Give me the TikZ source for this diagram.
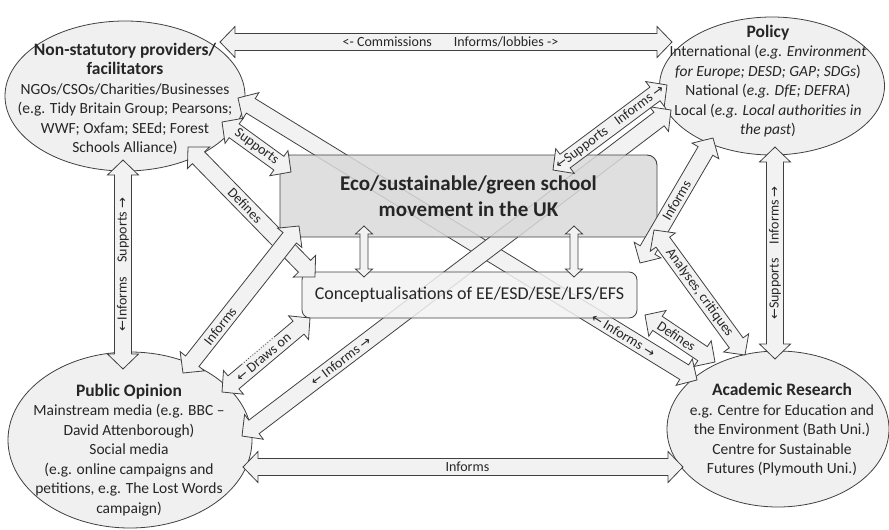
\documentclass[tikz,border=0pt]{standalone}
\usepackage{fontspec}
\setmainfont{Carlito}
\newfontfamily\arrfont{DejaVu Sans}
\usetikzlibrary{calc,shapes.geometric}
\definecolor{linec}{HTML}{404040}
\definecolor{arrfill}{HTML}{F2F2F2}
\definecolor{ellfill}{HTML}{F0F0F0}
\definecolor{ecofill}{HTML}{D9D9D9}
\definecolor{txt}{HTML}{262626}
\newcommand{\myL}{{\arrfont\fontsize{13}{13}\selectfont ←}}
\newcommand{\myR}{{\arrfont\fontsize{13}{13}\selectfont →}}
\tikzset{
  blk/.style={draw=linec, fill=arrfill, line width=0.8pt, line join=miter},
  ell/.style={ellipse, draw=linec, fill=ellfill, line width=0.8pt, inner sep=0pt},
  etext/.style={align=center, text=txt, font=\fontsize{15.5}{19.5}\selectfont, inner sep=0pt},
  lbl/.style={font=\fontsize{14}{16}\selectfont, text=txt, inner sep=0pt},
}
\newcommand{\dblarr}[5]{%
  \coordinate (hA) at ($(#1)!#5!(#2)$);
  \coordinate (hB) at ($(#2)!#5!(#1)$);
  \draw[blk] (#1) -- ($(hA)!#4!90:(#2)$) -- ($(hA)!#3!90:(#2)$)
    -- ($(hB)!#3!-90:(#1)$) -- ($(hB)!#4!-90:(#1)$) -- (#2)
    -- ($(hB)!#4!90:(#1)$) -- ($(hB)!#3!90:(#1)$)
    -- ($(hA)!#3!-90:(#2)$) -- ($(hA)!#4!-90:(#2)$) -- cycle;}
\newcommand{\fatarrow}[2]{\dblarr{#1}{#2}{8.5pt}{15.5pt}{15pt}}
\newcommand{\thinarrow}[2]{\dblarr{#1}{#2}{4pt}{8.5pt}{8pt}}
\begin{document}
\begin{tikzpicture}[x=1pt,y=-1pt]
\useasboundingbox (0,0) rectangle (889,530);
% ellipses
\node[ell, minimum width=240pt, minimum height=150pt] (ngo) at (125,96) {};
\node[ell, minimum width=225pt, minimum height=138pt] (pol) at (772,86) {};
\node[ell, minimum width=244pt, minimum height=176pt] (pub) at (130,440) {};
\node[ell, minimum width=222pt, minimum height=156pt] (aca) at (778,429) {};
% endpoints
\coordinate (tl) at (220,42);  \coordinate (tr) at (672,42);
\coordinate (lv1) at (123,160); \coordinate (lv2) at (123,369);
\coordinate (rv1) at (775,147); \coordinate (rv2) at (775,359);
\coordinate (bl) at (243,467);  \coordinate (br) at (683,467);
\coordinate (s1) at (222,122);  \coordinate (s2) at (291,172);
\coordinate (d1) at (188,147);  \coordinate (d2) at (315,277);
\coordinate (i1) at (183,373);  \coordinate (i2) at (299,226);
\coordinate (dr1) at (222,392); \coordinate (dr2) at (310,318);
\coordinate (la1) at (238,98);  \coordinate (la2) at (697,380);
\coordinate (lp1) at (671,110); \coordinate (lp2) at (242,436);
\coordinate (pe1) at (667,85);  \coordinate (pe2) at (553,170);
\coordinate (pc1) at (713,138); \coordinate (pc2) at (640,263);
\coordinate (an1) at (654,230); \coordinate (an2) at (745,355);
\coordinate (dc1) at (645,315); \coordinate (dc2) at (715,362);
\coordinate (v1a) at (364,226); \coordinate (v1b) at (364,277);
\coordinate (v2a) at (574,226); \coordinate (v2b) at (574,277);
% long arrows behind boxes
\fatarrow{la1}{la2}
\fatarrow{lp1}{lp2}
% boxes
\node[draw=linec, fill=ecofill, fill opacity=0.85, text opacity=1, rounded corners=10pt,
      minimum width=377pt, minimum height=82pt, line width=0.9pt, align=center, text=txt,
      font=\bfseries\fontsize{21}{26}\selectfont] (eco) at (468.5,196)
      {Eco/sustainable/green school\\movement in the UK};
\node[draw=linec, fill=arrfill, fill opacity=0.85, text opacity=1, rounded corners=8pt,
      minimum width=335pt, minimum height=46pt, line width=0.8pt, text=txt,
      font=\fontsize{18}{22}\selectfont] (con) at (469.5,295)
      {Conceptualisations of EE/ESD/ESE/LFS/EFS};
% other arrows
\fatarrow{tl}{tr}
\fatarrow{lv1}{lv2}
\fatarrow{rv1}{rv2}
\fatarrow{bl}{br}
\fatarrow{s1}{s2}
\fatarrow{d1}{d2}
\fatarrow{i1}{i2}
\fatarrow{dr1}{dr2}
\fatarrow{pe1}{pe2}
\fatarrow{pc1}{pc2}
\fatarrow{an1}{an2}
\fatarrow{dc1}{dc2}
\thinarrow{v1a}{v1b}
\thinarrow{v2a}{v2b}
% dotted part of the "Draws on" shaft edge
\coordinate (dtA) at ($($(dr1)!33pt!(dr2)$)!8.5pt!90:(dr2)$);
\coordinate (dtB) at ($($(dr1)!75pt!(dr2)$)!8.5pt!90:(dr2)$);
\draw[arrfill, line width=1.8pt] (dtA) -- (dtB);
\draw[linec, line width=0.8pt, dotted] (dtA) -- (dtB);
% ellipse texts
\node[etext] (ngot) at (125,99) {\fontsize{17.5}{19.5}\selectfont\bfseries Non-statutory providers/\\
  \fontsize{17.5}{19.5}\selectfont\bfseries facilitators\\
  NGOs/CSOs/Charities/Businesses\\(e.g. Tidy Britain Group; Pearsons;\\WWF; Oxfam; SEEd; Forest\\Schools Alliance)};
\node[etext] (polt) at (768,81) {\fontsize{17.5}{19.5}\selectfont\bfseries Policy\\
  International (\textit{e.g. Environment}\\\textit{for Europe; DESD; GAP; SDGs})\\
  National (\textit{e.g. DfE; DEFRA})\\Local (\textit{e.g. Local authorities in}\\\textit{the past})};
\node[etext] (pubt) at (129,450) {\fontsize{17.5}{19.5}\selectfont\bfseries Public Opinion\\
  Mainstream media (e.g. BBC --\\David Attenborough)\\Social media\\(e.g. online campaigns and\\petitions, e.g. The Lost Words\\campaign)};
\node[etext] (acat) at (782,430) {\fontsize{17.5}{19.5}\selectfont\bfseries Academic Research\\
  e.g. Centre for Education and\\the Environment (Bath Uni.)\\Centre for Sustainable\\Futures (Plymouth Uni.)};
% labels
\path (tl) -- (tr) node[lbl, pos=0.51] (l1) {<- Commissions\hspace{22pt}Informs/lobbies ->};
\path (lv1) -- (lv2) node[lbl, rotate=90, pos=0.5] (l2) {\myL Informs\hspace{14pt}Supports \myR};
\path (rv1) -- (rv2) node[lbl, rotate=90, pos=0.5] (l3) {\myL Supports\hspace{14pt}Informs \myR};
\path (bl) -- (br) node[lbl, pos=0.51] (l4) {Informs};
\path (s1) -- (s2) node[lbl, sloped, pos=0.5] (l5) {Supports};
\path (d1) -- (d2) node[lbl, sloped, pos=0.45] (l6) {Defines};
\path (i1) -- (i2) node[lbl, sloped, pos=0.32] (l7) {Informs};
\path (dr1) -- (dr2) node[lbl, sloped, pos=0.47] (l8) {\myL{} Draws on};
\path (la1) -- (la2) node[lbl, sloped, pos=0.84] (l9) {\myL{} Informs \myR};
\path (lp1) -- (lp2) node[lbl, sloped, pos=0.77] (l10) {\myL{} Informs \myR};
\path (pe2) -- (pe1) node[lbl, sloped, pos=0.5] (l11) {\myL Supports\hspace{12pt}Informs \myR};
\path (pc1) -- (pc2) node[lbl, sloped, pos=0.5] (l12) {Informs};
\path (an1) -- (an2) node[lbl, sloped, pos=0.5] (l13) {Analyses, critiques};
\path (dc1) -- (dc2) node[lbl, sloped, pos=0.45] (l14) {Defines};
\end{tikzpicture}
\end{document}
